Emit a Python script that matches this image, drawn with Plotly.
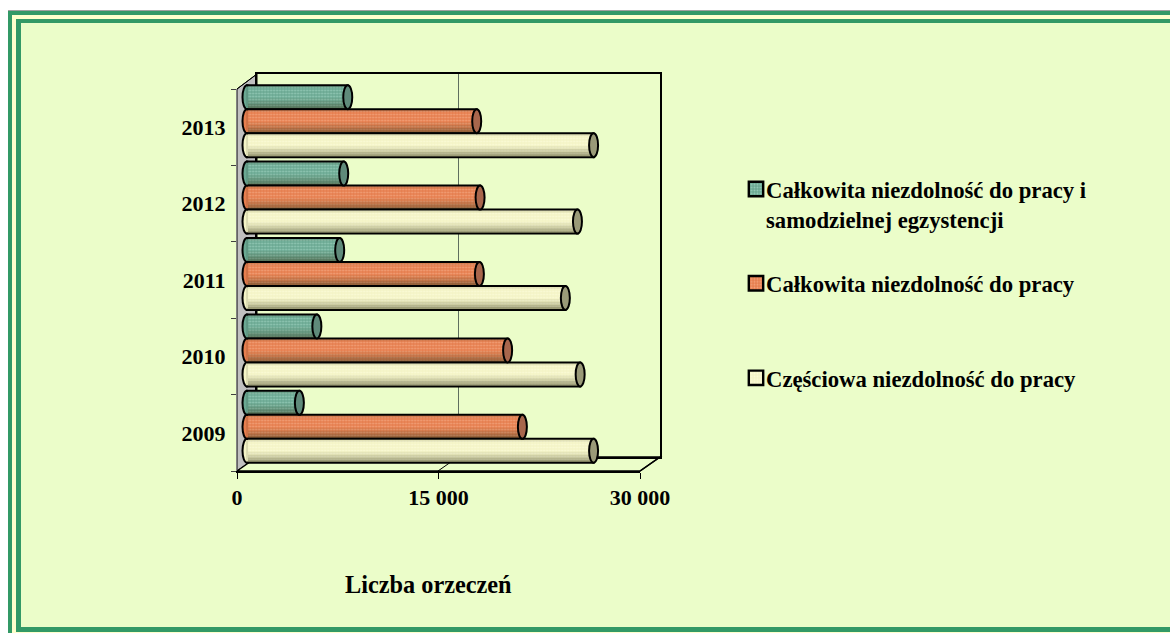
import plotly.graph_objects as go

W, H = 1170, 633
years = ["2009", "2010", "2011", "2012", "2013"]
calkowita_egz = [3900, 5200, 6900, 7200, 7500]
calkowita = [20500, 19400, 17300, 17350, 17100]
czesciowa = [25800, 24800, 23700, 24600, 25800]
ticks = [0, 15000, 30000]
tick_text = ["0", "15 000", "30 000"]
names = ["Całkowita niezdolność do pracy i<br>samodzielnej egzystencji",
         "Całkowita niezdolność do pracy",
         "Częściowa niezdolność do pracy"]
FONT = "Liberation Serif"

def px(x): return x / W
def py(y): return 1 - y / H

series = [
    dict(v=calkowita_egz, col="#6aa892", dot="#95cbb8", cap="#5f8a7a", c=0.314),
    dict(v=calkowita, col="#e67e4e", dot="#f2a37c", cap="#a8664c", c=0.0),
    dict(v=czesciowa, col="#f4f4c6", dot="#fbfbd8", cap="#9a9a78", c=-0.314),
]
BW = 0.314
PXK = 403 / 30000  # pixels per unit on the bar axis
RX = 4.5 / PXK
X0 = 247

fig = go.Figure()
# back wall axes (x/y), front axes (x2/y2), bars (x3/y3)
fig.add_trace(go.Scatter(x=[0], y=[0], xaxis="x", yaxis="y", opacity=0, showlegend=False, hoverinfo="skip"))
fig.add_trace(go.Bar(x=[0]*5, y=years, xaxis="x2", yaxis="y2", orientation="h", opacity=0, showlegend=False, hoverinfo="skip"))

shapes_below = []
shapes_above = []
for i, s in enumerate(series):
    fig.add_trace(go.Bar(
        x=s["v"], y=years, xaxis="x3", yaxis="y3", orientation="h", name=names[i],
        offset=s["c"] - BW / 2, width=BW, legendgroup=f"g{i}",
        marker=dict(color=s["col"], line=dict(color="black", width=2),
                    pattern=dict(shape=".", size=3, solidity=0.3, fgcolor=s["dot"], bgcolor=s["col"], fillmode="replace")),
    ))
    # cylinder shading bands
    for frac0, frac1, alpha in [(0.03, 0.12, 0.48), (0.12, 0.22, 0.34), (0.22, 0.34, 0.20), (0.34, 0.46, 0.08), (0.88, 0.97, 0.10)]:
        fig.add_trace(go.Bar(
            x=s["v"], y=years, xaxis="x3", yaxis="y3", orientation="h", showlegend=False, hoverinfo="skip",
            offset=s["c"] - BW / 2 + frac0 * BW, width=(frac1 - frac0) * BW,
            marker=dict(color=f"rgba(60,60,30,{alpha})", line=dict(width=0)),
        ))
    for j, val in enumerate(s["v"]):
        y0, y1 = j + s["c"] - BW / 2, j + s["c"] + BW / 2
        shapes_above.append(dict(type="circle", xref="x3", yref="y3", x0=val - RX, x1=val + RX, y0=y0, y1=y1,
                                 fillcolor=s["cap"], line=dict(color="black", width=2), layer="above"))
        shapes_below.append(dict(type="circle", xref="x3", yref="y3", x0=-RX, x1=RX, y0=y0, y1=y1,
                                 fillcolor=s["col"], line=dict(color="black", width=2), layer="below"))
        shapes_above.append(dict(type="rect", xref="x3", yref="y3", x0=-RX * 0.2, x1=RX * 0.2, y0=y0 + 0.016, y1=y1 - 0.016,
                                 fillcolor=s["col"], line=dict(width=0), layer="above"))

def paper_rect(x0, y0, x1, y1, col):
    return dict(type="rect", xref="paper", yref="paper", x0=px(x0), x1=px(x1), y0=py(y1), y1=py(y0),
                fillcolor=col, line=dict(width=0), layer="below")

def paper_path(pts, fill=None, col="black", w=1.5, layer="below"):
    d = "M " + " L ".join(f"{px(x):.5f},{py(y):.5f}" for x, y in pts) + (" Z" if fill else "")
    return dict(type="path", xref="paper", yref="paper", path=d, fillcolor=fill or "rgba(0,0,0,0)",
                line=dict(color=col, width=w), layer=layer)

GREEN = "#339966"
BG = "#ebfdc9"
frame = [
    paper_rect(0, 0, W, H, "white"),
    paper_rect(8, 10, W, 11, "#a0a0a0"),
    paper_rect(8, 11, W, H, GREEN),
    paper_rect(12, 15, W, H, "#ffffcc"),
    paper_rect(16, 19, W, 632, GREEN),
    paper_rect(21, 23, W, 627, BG),
    paper_path([(237, 89), (257, 74), (257, 457), (237, 471)], fill="#c0c0c0", w=1),
    paper_path([(237, 471), (257, 457), (660, 457), (640, 471)], fill=BG, w=1.5),
    paper_path([(237, 89), (257, 74)], w=1),
    paper_path([(438, 471), (458, 457)], w=1),
    paper_path([(640, 471), (660, 457)], w=1.5),
]

axis_font = dict(family=FONT, size=22, color="black", weight="bold")
fig.update_layout(
    width=W, height=H, autosize=False, margin=dict(l=0, r=0, t=0, b=0, autoexpand=False),
    paper_bgcolor="white", plot_bgcolor="rgba(0,0,0,0)", barmode="overlay",
    shapes=frame + shapes_below + shapes_above,
    font=dict(family=FONT, color="black"),
    xaxis=dict(domain=[px(257), px(660)], range=[0, 30000], tickvals=[15000], showticklabels=False, ticks="",
               showgrid=True, gridcolor="#5f6f5f", gridwidth=1, zeroline=False,
               showline=True, mirror=True, linecolor="black", linewidth=1.5, anchor="y"),
    yaxis=dict(domain=[py(457), py(74)], range=[0, 1], showticklabels=False, ticks="", showgrid=False,
               zeroline=False, showline=True, mirror=True, linecolor="black", linewidth=1.5, anchor="x"),
    xaxis2=dict(domain=[px(237), px(640)], range=[0, 30000], tickvals=ticks, ticktext=tick_text, ticks="outside",
                ticklen=6, tickwidth=1, tickcolor="black", tickfont=axis_font, showgrid=False, zeroline=False,
                showline=True, linecolor="black", linewidth=1.5, anchor="y2"),
    yaxis2=dict(domain=[py(471), py(89)], type="category", categoryorder="array", categoryarray=years,
                tickson="boundaries", ticks="outside", ticklen=5, tickwidth=1, tickcolor="#404040",
                tickfont=axis_font, ticklabelstandoff=6, showgrid=False, zeroline=False,
                showline=True, linecolor="#808080", linewidth=1, anchor="x2"),
    xaxis3=dict(domain=[px(X0 - 1000 * PXK), px(X0 + 30000 * PXK)], range=[-1000, 30000], visible=False, anchor="y3"),
    yaxis3=dict(domain=[py(465), py(83)], type="category", categoryorder="array", categoryarray=years,
                range=[-0.5, 4.5], visible=False, anchor="x3"),
    legend=dict(x=px(726), y=py(168), xanchor="left", yanchor="top", bgcolor="rgba(0,0,0,0)", borderwidth=0,
                font=dict(family=FONT, size=22.7, color="black", weight="bold"), tracegroupgap=62,
                traceorder="grouped", itemclick=False, itemdoubleclick=False),
    annotations=[dict(text="Liczba orzeczeń", xref="paper", yref="paper", x=px(429), y=py(584), showarrow=False,
                      xanchor="center", yanchor="middle", font=dict(family=FONT, size=24.3, color="black", weight="bold"))],
)
post = """
document.body.style.margin='0';
document.documentElement.style.overflow='hidden';
document.querySelectorAll('.legend .groups').forEach(function(g,i){
  var m=/translate\\(([-\\d.]+),\\s*([-\\d.]+)\\)/.exec(g.getAttribute('transform')||'translate(0,0)');
  if(i>0){g.setAttribute('transform','translate('+m[1]+','+(parseFloat(m[2])-30)+')');}
});
document.querySelectorAll('.legend .legendsymbols').forEach(function(g,i){
  g.setAttribute('transform','translate(30,'+(i===0?-15:0)+') scale(1.2) translate(-20,0)');
});
"""
fig.write_html("out.html", post_script=post, config={"displayModeBar": False})
